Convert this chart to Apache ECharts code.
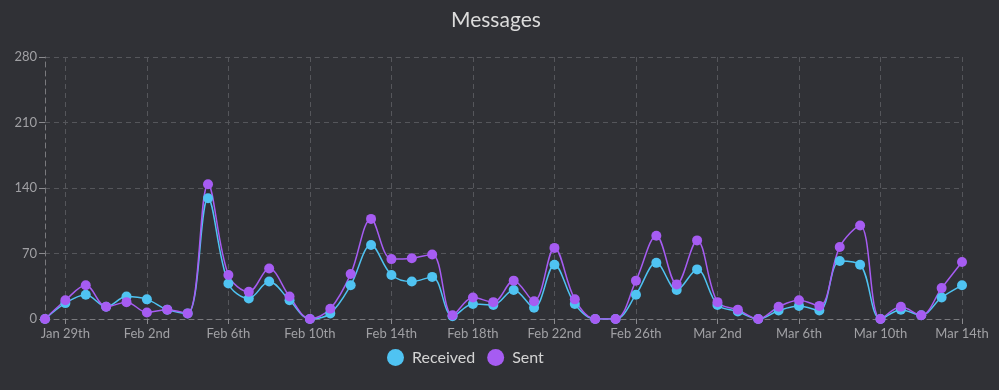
<!DOCTYPE html>
<html>
<head>
<meta charset="utf-8">
<script src="https://cdn.jsdelivr.net/npm/echarts@6/dist/echarts.min.js"></script>
<style>
html,body{margin:0;padding:0;background:#303136;}
#chart{width:999px;height:390px;}
</style>
</head>
<body>
<div id="chart"></div>
<script>
const categories = ["Jan 28th","Jan 29th","Jan 30th","Jan 31st","Feb 1st","Feb 2nd","Feb 3rd","Feb 4th","Feb 5th","Feb 6th","Feb 7th","Feb 8th","Feb 9th","Feb 10th","Feb 11th","Feb 12th","Feb 13th","Feb 14th","Feb 15th","Feb 16th","Feb 17th","Feb 18th","Feb 19th","Feb 20th","Feb 21st","Feb 22nd","Feb 23rd","Feb 24th","Feb 25th","Feb 26th","Feb 27th","Feb 28th","Mar 1st","Mar 2nd","Mar 3rd","Mar 4th","Mar 5th","Mar 6th","Mar 7th","Mar 8th","Mar 9th","Mar 10th","Mar 11th","Mar 12th","Mar 13th","Mar 14th"];
const received = [0,17,26,13,24,21,10,6,129,38,22,40,20,0,6,36,79,47,40,45,3,16,15,31,12,58,16,0,0,26,60,31,53,15,8,0,9,14,9,62,58,0,10,4,23,36];
const sent = [0,20,36,13,18,7,10,6,144,47,29,54,24,0,11,48,107,64,65,69,4,23,18,41,19,76,21,0,0,41,89,37,84,18,10,0,13,20,14,77,100,0,13,4,33,61];
const yTicks = [0,70,140,210,280];
const seriesNames = ["Received","Sent"];

const chart = echarts.init(document.getElementById('chart'));
const font = 'Lato, "Open Sans", sans-serif';
const showIdx = (i) => i % 4 === 1;
chart.setOption({
  backgroundColor: '#303136',
  animation: false,
  title: {
    text: 'Messages', left: 446, top: 5,
    textStyle: {color: '#dcdcdc', fontSize: 21, fontWeight: 'normal', fontFamily: font}
  },
  legend: {
    data: seriesNames, bottom: 19, left: 382, icon: 'circle',
    itemWidth: 17, itemHeight: 17, itemGap: 12,
    textStyle: {color: '#d4d4d4', fontSize: 16, fontFamily: font, padding: [0,0,0,3]}
  },
  grid: {left: 45, right: 37, top: 57, bottom: 71, containLabel: false},
  xAxis: {
    type: 'category', data: categories, boundaryGap: false,
    axisLine: {show: true, lineStyle: {color: '#7a7a7e', type: [5,4]}},
    axisTick: {show: true, interval: showIdx, length: 5, lineStyle: {color: '#8a8a8e'}},
    axisLabel: {interval: showIdx, color: '#a0a0a4', fontSize: 13, fontFamily: font, margin: 8},
    splitLine: {show: true, interval: showIdx, lineStyle: {color: '#55565b', type: [5,4]}}
  },
  yAxis: {
    type: 'value', min: yTicks[0], max: yTicks[yTicks.length-1], interval: 70,
    axisLine: {show: true, lineStyle: {color: '#7a7a7e', type: [5,4]}},
    axisTick: {show: true, length: 6, lineStyle: {color: '#8a8a8e'}},
    axisLabel: {color: '#a0a0a4', fontSize: 13, fontFamily: font, margin: 8},
    splitLine: {show: true, lineStyle: {color: '#55565b', type: [5,4]}}
  },
  series: [
    {name: seriesNames[0], type: 'line', data: received, smooth: 0.35,
     symbol: 'circle', symbolSize: 10, showAllSymbol: true,
     itemStyle: {color: '#4fc3f2'}, lineStyle: {width: 1.5, color: '#4fc3f2'}},
    {name: seriesNames[1], type: 'line', data: sent, smooth: 0.35,
     symbol: 'circle', symbolSize: 10, showAllSymbol: true,
     itemStyle: {color: '#a65cf2'}, lineStyle: {width: 1.5, color: '#a65cf2'}}
  ]
});
</script>
</body>
</html>
